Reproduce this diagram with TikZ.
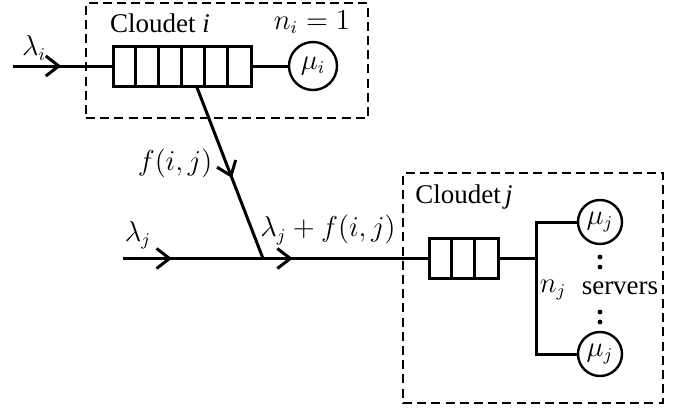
\documentclass[tikz,border=0pt]{standalone}
\usepackage{fontspec}
\setmainfont{Liberation Serif}
\usetikzlibrary{arrows.meta,decorations.markings}

\begin{document}
\begin{tikzpicture}[x=0.5pt,y=-0.5pt,
  every node/.style={font=\fontsize{13.5}{16}\selectfont},
  cloud/.style={draw, dash pattern=on 4.5pt off 2.6pt, line width=0.9pt,
    rectangle, inner sep=0pt},
  wire/.style={line width=1.5pt},
  queuebox/.style={draw, line width=1.5pt, rectangle, inner sep=0pt,
    minimum height=20pt},
  server/.style={draw, circle, line width=1.2pt, inner sep=0pt},
  flow/.style={postaction={decorate}, decoration={markings,
    mark=at position #1 with {\arrow{Straight Barb[length=6.5pt,width=10pt,line width=1.5pt]}}}},
  dot/.style={circle, fill, inner sep=0pt, minimum size=2.4pt}
]
\useasboundingbox (0,0) rectangle (677,408);

% cloudet boundaries
\node[cloud, minimum width=141pt, minimum height=57.5pt] (boxI) at (227,60.5) {};
\node[cloud, minimum width=130pt, minimum height=115pt] (boxJ) at (533,288) {};

% cloudet i: six-slot queue and a single server
\node[queuebox, minimum width=69pt] (qi) at (183,66) {};
\foreach \k in {1,...,5}
  \draw[wire] ([xshift=\k*11.5pt]qi.north west) -- ([xshift=\k*11.5pt]qi.south west);
\node[server, minimum size=24pt] (mi) at (313,66) {$\mu_i$};
\coordinate (srcI) at (13,66);
\draw[wire, flow=0.485] (srcI) -- (qi.west);
\draw[wire] (qi.east) -- (mi.west);

% cloudet j: three-slot queue and n_j parallel servers
\node[queuebox, minimum width=34.5pt] (qj) at (464.5,258.5) {};
\foreach \k in {1,2}
  \draw[wire] ([xshift=\k*11.5pt]qj.north west) -- ([xshift=\k*11.5pt]qj.south west);
\node[server, minimum size=22pt] (mj1) at (600,222) {$\mu_j$};
\node[server, minimum size=22pt] (mj2) at (600,354) {$\mu_j$};
\coordinate (br) at (537,258.5);
\draw[wire] (qj.east) -- (br);
\draw[wire] (mj1.west) -| (br) |- (mj2.west);

\node[dot] (d1) at (600,257) {};
\node[dot] (d2) at (600,267) {};
\node[dot] (d3) at (600,312) {};
\node[dot] (d4) at (600,322) {};

% forwarded traffic and merge
\coordinate (fork) at ([xshift=7pt]qi.south);
\coordinate (srcJ) at (123,258.5);
\coordinate (merge) at (263,258.5);
\draw[wire, flow=0.53] (fork) -- (merge);
\draw[wire, flow=0.35] (srcJ) -- (merge);
\draw[wire, flow=0.18] (merge) -- (qj.west);

% labels
\node (lI) at (34,48) {$\lambda_i$};
\node (tI) at (160,23) {Cloudet \textit{i}};
\node (nI) at (312,22) {$n_i=1$};
\node (fij) at (175,163) {$f(i,j)$};
\node (lJ) at (138,235) {$\lambda_j$};
\node (sum) at (328,230) {$\lambda_j+f(i,j)$};
\node (tJ) at (464,197) {Cloudet\,\textit{j}};
\node (nJ) at (553,290) {$n_j$};
\node (srv) at (620,288) {servers};
\end{tikzpicture}
\end{document}
